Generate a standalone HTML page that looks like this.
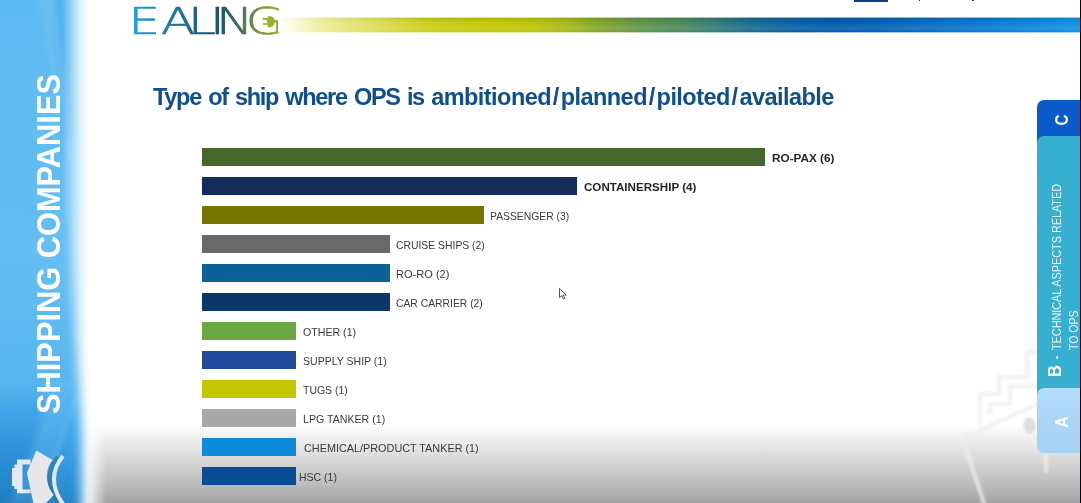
<!DOCTYPE html>
<html lang="en">
<head>
<meta charset="utf-8">
<title>Type of ship where OPS is ambitioned/planned/piloted/available</title>
<style>
*{box-sizing:border-box;margin:0;padding:0}
html,body{width:1081px;height:503px;overflow:hidden;background:#fff}
body{position:relative;font-family:"Liberation Sans",sans-serif}
#stage{position:absolute;left:0;top:0;width:1081px;height:503px;overflow:hidden;background:#fff}
.abs{position:absolute}
#floor{left:0;top:425px;width:1081px;height:78px;background:linear-gradient(to bottom,#ffffff 0%,#f5f5f5 10%,#ececec 21%,#d7d7d7 46%,#bfbfbf 73%,#a2a2a2 100%)}
#side{left:0;top:0;width:130px;height:503px}
#sidetext{left:48px;top:243.5px;width:0;height:0}
#sidetext span{position:absolute;white-space:nowrap;color:#fff;font-weight:bold;font-size:34px;line-height:1;transform:translate(-50%,-50%) rotate(-90deg) scaleX(0.906);transform-origin:50% 50%;left:0;top:0;display:block}
#topbar{left:278px;top:17px;width:803px;height:16px;-webkit-mask-image:linear-gradient(to bottom,rgba(0,0,0,.45) 0,rgba(0,0,0,.45) 1px,#000 1px,#000 15px,rgba(0,0,0,.35) 15px);mask-image:linear-gradient(to bottom,rgba(0,0,0,.45) 0,rgba(0,0,0,.45) 1px,#000 1px,#000 15px,rgba(0,0,0,.35) 15px);background:linear-gradient(to right,#ffffff 0.00%,#fcfce6 1.49%,#f8f8cc 2.74%,#f0f0a8 4.86%,#e4e478 9.46%,#d8da48 14.07%,#ccd020 18.68%,#c5c90e 23.29%,#c3c806 26.77%,#bcc40a 31.38%,#a9ba1c 35.74%,#82a62e 40.10%,#62964a 45.08%,#488860 51.18%,#2c7880 55.67%,#186a94 59.53%,#0660a8 65.01%,#035aae 68.74%,#0460b4 73.35%,#0873cc 84.43%,#0c82da 92.40%,#1092e6 100.00%)}
#topsh{left:278px;top:18px;width:803px;height:14px;background:linear-gradient(to bottom,rgba(30,40,0,0.13) 0%,rgba(30,40,0,0) 30%,rgba(255,255,255,0.10) 75%,rgba(255,255,255,0) 100%);-webkit-mask-image:linear-gradient(to right,transparent 0%,#000 20%);mask-image:linear-gradient(to right,transparent 0%,#000 20%)}
h1{position:absolute;left:153px;top:82px;font-size:23.5px;line-height:30px;font-weight:bold;color:#0f4f8c;white-space:nowrap;letter-spacing:-1.3px;word-spacing:2px}
h1 .p2{letter-spacing:-0.54px;word-spacing:0}
h1 .sl{margin:0 1.8px}
.bar{position:absolute;left:202px;height:18px}
.lbl{position:absolute;transform-origin:0 50%;font-size:11.4px;line-height:18px;height:18px;color:#3a3a3a;white-space:nowrap}
.lbl.b{font-weight:bold;color:#262626}
.tab{position:absolute;left:1037px;width:44px}
.rot{width:0;height:0}
.rot span{position:absolute;left:0;top:0;display:block;line-height:1;white-space:nowrap;transform:translate(-50%,-50%) rotate(-90deg)}
#btxt{left:1047px;top:376.5px;width:0;height:0}
#btxt .in{position:absolute;left:0;top:0;display:block;width:300px;height:40px;white-space:nowrap;color:#ebf8fc;font-size:12px;line-height:16px;transform-origin:0 0;transform:rotate(-90deg)}
#btxt .in>*{position:absolute;display:block;line-height:16px;transform-origin:0 50%;white-space:nowrap}
#btxt b{font-size:18px;color:#fff;left:0;top:0.2px;transform:scaleX(0.92)}
#btxt i{font-style:normal;font-weight:bold;left:17.5px;top:2.2px}
#t1{left:26.9px;top:2.2px;transform:scaleX(0.902)}
#t2{left:26.9px;top:18.5px;transform:scaleX(0.876)}
</style>
</head>
<body>
<div id="stage">
  <div id="floor" class="abs"></div>

  <!-- left sidebar -->
  <svg id="side" class="abs" width="130" height="503" viewBox="0 0 130 503">
    <defs>
      <linearGradient id="vg" gradientUnits="userSpaceOnUse" x1="0" y1="0" x2="0" y2="503">
        <stop offset="0" stop-color="#5dbaf0"/>
        <stop offset="0.5" stop-color="#65bef2"/>
        <stop offset="0.75" stop-color="#58b6ef"/>
        <stop offset="0.85" stop-color="#44a8ea"/>
        <stop offset="0.92" stop-color="#3399e0"/>
        <stop offset="0.97" stop-color="#2c8ed2"/>
        <stop offset="1" stop-color="#2a84c6"/>
      </linearGradient>
      <linearGradient id="hm" gradientUnits="userSpaceOnUse" x1="0" y1="0" x2="100" y2="0">
        <stop offset="0" stop-color="#fff"/>
        <stop offset="0.62" stop-color="#fff"/>
        <stop offset="0.72" stop-color="#fff" stop-opacity="0.57"/>
        <stop offset="0.80" stop-color="#fff" stop-opacity="0.23"/>
        <stop offset="0.87" stop-color="#fff" stop-opacity="0.04"/>
        <stop offset="0.91" stop-color="#fff" stop-opacity="0"/>
      </linearGradient>
      <linearGradient id="wg" gradientUnits="userSpaceOnUse" x1="60" y1="0" x2="130" y2="0">
        <stop offset="0" stop-color="#fff" stop-opacity="1"/>
        <stop offset="0.38" stop-color="#fff" stop-opacity="0.95"/>
        <stop offset="0.5" stop-color="#fff" stop-opacity="0.55"/>
        <stop offset="0.66" stop-color="#fff" stop-opacity="0"/>
      </linearGradient>
      <linearGradient id="wd" gradientUnits="userSpaceOnUse" x1="0" y1="390" x2="0" y2="503">
        <stop offset="0" stop-color="#1b7cc8" stop-opacity="0"/>
        <stop offset="0.4" stop-color="#1b7cc8" stop-opacity="0.3"/>
        <stop offset="1" stop-color="#1b72b8" stop-opacity="0.45"/>
      </linearGradient>
      <mask id="hmk" maskUnits="userSpaceOnUse" x="0" y="0" width="130" height="503"><rect width="130" height="503" fill="url(#hm)"/></mask>
      <filter id="bl" x="-50%" y="-20%" width="200%" height="140%"><feGaussianBlur stdDeviation="5.5"/></filter>
      <filter id="bl2" x="-50%" y="-20%" width="200%" height="140%"><feGaussianBlur stdDeviation="2"/></filter>
    </defs>
    <rect x="60" y="400" width="70" height="103" fill="url(#wg)"/>
    <g mask="url(#hmk)">
      <rect width="130" height="503" fill="url(#vg)"/>
      <path d="M52 -4 C56 30 62 70 66 140 L75 140 L75 -4 Z" fill="#379fe6" fill-opacity="0.3" filter="url(#bl2)"/>
      <path d="M38 -4 C44 30 52 70 58 130 L60 130 C56 70 52 30 50 -4 Z" fill="#fff" fill-opacity="0.07" filter="url(#bl2)"/>
    </g>
    <path d="M40 215 H64 C68 300 77 370 80 430 L81 543 H40 Z" fill="url(#vg)" filter="url(#bl)"/>
    <g fill="none" stroke="#fff" stroke-opacity="0.13" stroke-width="3" filter="url(#bl2)">
      <path d="M52 -5 C58 40 66 90 70 160"/>
      <path d="M76 395 C66 430 52 470 30 510"/>
    </g>
    <path d="M44 380 C40 420 28 455 6 503 H40 C56 470 66 430 72 380 Z" fill="#fff" fill-opacity="0.06" filter="url(#bl2)"/>
    <path d="M-5 390 L50 390 C42 430 28 468 8 508 L-5 508 Z" fill="url(#wd)" filter="url(#bl2)"/>
  </svg>
  <div id="sidetext" class="abs"><span>SHIPPING COMPANIES</span></div>

  <!-- speaker icon -->
  <svg class="abs" style="left:0;top:440px" width="80" height="63" viewBox="0 440 80 63">
    <path d="M17 459.4 H30.6 V464.4 H22.5 V489.4 H30.6 V493.2 H17 V489 H14.4 V486 H12 V468 H14.4 V464.4 H17 Z" fill="#e6e8f0"/>
    <path d="M58 457 C46.5 470 46.5 487 57.5 501" fill="none" stroke="#22769f" stroke-opacity="0.65" stroke-width="4.5"/>
    <path d="M36.3 450.6 L52.5 460 C45 469 44.6 484 53.8 495 L43 506 L34 506 L26.9 473 Z" fill="#e9e6ea"/>
    <path d="M63 456 C51 470 51 488 63 504" fill="none" stroke="#e3e7f0" stroke-width="4"/>
  </svg>

  <!-- logo -->
  <svg class="abs" style="left:126px;top:0" width="160" height="44" viewBox="126 0 160 44">
    <defs>
      <linearGradient id="lg" gradientUnits="userSpaceOnUse" x1="97.0" y1="0" x2="207.4" y2="0">
        <stop offset="0" stop-color="#1fa2e4"/>
        <stop offset="0.2" stop-color="#1b80b8"/>
        <stop offset="0.42" stop-color="#1a6590"/>
        <stop offset="0.58" stop-color="#1b4f70"/>
        <stop offset="0.72" stop-color="#3a6b62"/>
        <stop offset="0.86" stop-color="#7a983c"/>
        <stop offset="1" stop-color="#9aa82c"/>
      </linearGradient>
    </defs>
    <text transform="scale(1.35,1)" x="95.13 119.27 139.19 155.52 159.96 182.10" y="34" font-family="'DejaVu Sans Light','DejaVu Sans',sans-serif" font-weight="200" font-size="37" fill="url(#lg)" stroke="url(#lg)" stroke-width="0.7">EALING</text>
    <path d="M267.6 16.2 h3 a4 5.5 0 0 1 0 11 h-3 z" fill="#98b220"/>
    <path d="M262.8 18.9 h5 M262.8 24 h5" stroke="#8fa62e" stroke-width="1.6"/>
  </svg>
  <div id="topbar" class="abs"></div>
  <div id="topsh" class="abs"></div>
  <div class="abs" style="left:854px;top:0;width:34px;height:1.8px;background:#0a3f90"></div>
  <div class="abs" style="left:918.5px;top:0;width:1.6px;height:1.2px;background:#333"></div>
  <div class="abs" style="left:972px;top:0;width:1.6px;height:1.2px;background:#333"></div>

  <h1>Type of ship where OPS is <span class="p2">ambitioned<span class="sl">/</span>planned<span class="sl">/</span>piloted<span class="sl">/</span>available</span></h1>

  <!-- bars -->
  <div class="bar" style="top:148px;width:563px;background:#46662a"></div>
  <div class="lbl b" style="top:148.6px;left:772px;transform:scaleX(1.032)">RO-PAX (6)</div>
  <div class="bar" style="top:177px;width:375.3px;background:#132c5c"></div>
  <div class="lbl b" style="top:177.6px;left:584px;transform:scaleX(1.018)">CONTAINERSHIP (4)</div>
  <div class="bar" style="top:206px;width:281.5px;background:#747600"></div>
  <div class="lbl" style="top:206.6px;left:490px;transform:scaleX(0.908)">PASSENGER (3)</div>
  <div class="bar" style="top:235px;width:187.6px;background:#696969"></div>
  <div class="lbl" style="top:235.6px;left:396px;transform:scaleX(0.911)">CRUISE SHIPS (2)</div>
  <div class="bar" style="top:264px;width:187.6px;background:#0b6199"></div>
  <div class="lbl" style="top:264.6px;left:396px;transform:scaleX(0.971)">RO-RO (2)</div>
  <div class="bar" style="top:293px;width:187.6px;background:#0a3769"></div>
  <div class="lbl" style="top:293.6px;left:396px;transform:scaleX(0.908)">CAR CARRIER (2)</div>
  <div class="bar" style="top:322px;width:93.8px;background:#6ba843"></div>
  <div class="lbl" style="top:322.6px;left:303px;transform:scaleX(0.932)">OTHER (1)</div>
  <div class="bar" style="top:351px;width:93.8px;background:#204a9a"></div>
  <div class="lbl" style="top:351.6px;left:303px;transform:scaleX(0.925)">SUPPLY SHIP (1)</div>
  <div class="bar" style="top:380px;width:93.8px;background:#c3c600"></div>
  <div class="lbl" style="top:380.6px;left:303px;transform:scaleX(0.917)">TUGS (1)</div>
  <div class="bar" style="top:409px;width:93.8px;background:#a8a8a8"></div>
  <div class="lbl" style="top:409.6px;left:303px;transform:scaleX(0.932)">LPG TANKER (1)</div>
  <div class="bar" style="top:438px;width:93.8px;background:#0d8bd9"></div>
  <div class="lbl" style="top:438.6px;left:304px;transform:scaleX(0.952)">CHEMICAL/PRODUCT TANKER (1)</div>
  <div class="bar" style="top:467px;width:93.8px;background:#0a4d95"></div>
  <div class="lbl" style="top:467.6px;left:299px;transform:scaleX(0.921)">HSC (1)</div>

  <!-- ship watermark -->
  <svg class="abs" style="left:940px;top:340px" width="141" height="163" viewBox="940 340 141 163">
    <defs><filter id="wb" x="-20%" y="-20%" width="140%" height="140%"><feGaussianBlur stdDeviation="0.8"/></filter></defs>
    <g fill="none" stroke="#ededed" stroke-opacity="0.7" stroke-width="4.5" stroke-linejoin="round" stroke-linecap="round" filter="url(#wb)">
      <path d="M980 423 V394 H999 V377 H1027 V352 H1042"/>
      <path d="M990 412 V404 H1010 V386 H1036"/>
      <path d="M1040 403 L972 434 Q962 439 966 449 L984 503"/>
      <path d="M1046 455 V471"/>
    </g>
    <ellipse cx="1029.5" cy="425.5" rx="6" ry="8" fill="#d4d4d4" fill-opacity="0.8" filter="url(#wb)"/>
  </svg>

  <!-- right tabs -->
  <div class="tab" style="top:100px;height:44px;background:#0a5bc9;border-top-left-radius:7px"></div>
  <div class="tab" style="top:136px;height:258px;background:#37afd0;border-top-left-radius:7px"></div>
  <div class="tab" style="top:388px;height:65px;background:linear-gradient(#b2dcfa,#a4d0f2);border-radius:7px 0 0 7px"></div>
  <div class="abs" style="left:1079.6px;top:0;width:1.4px;height:503px;background:#05070c"></div>
  <div class="abs rot" style="left:1061px;top:120px"><span style="font-size:19px;font-weight:bold;color:#fff;transform:translate(-50%,-50%) rotate(-90deg) scaleX(0.8)">C</span></div>
  <div class="abs rot" style="left:1061.2px;top:422px"><span style="font-size:19px;font-weight:bold;color:#fff;transform:translate(-50%,-50%) rotate(-90deg) scaleX(0.82)">A</span></div>
  <div class="abs" id="btxt"><div class="in"><b>B</b><i>-</i><span id="t1">TECHNICAL ASPECTS RELATED</span><span id="t2">TO OPS</span></div></div>

  <!-- cursor -->
  <svg class="abs" style="left:558px;top:287px" width="10" height="14" viewBox="0 0 10 14">
    <path d="M1.5 1.5 L1.5 10.5 L3.8 8.6 L5.4 12 L6.8 11.4 L5.3 8.1 L8.2 8 Z" fill="#fff" stroke="#444" stroke-width="0.9" stroke-linejoin="round"/>
  </svg>
</div>
</body>
</html>
